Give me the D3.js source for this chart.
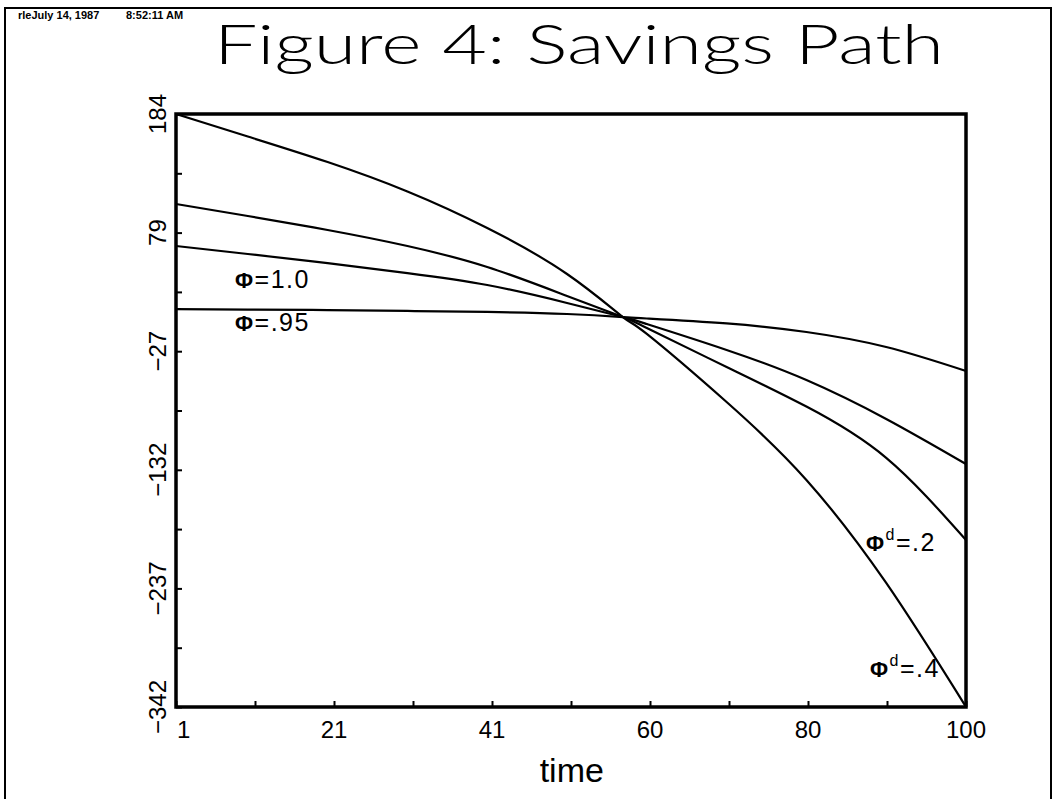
<!DOCTYPE html>
<html>
<head>
<meta charset="utf-8">
<script src="https://cdn.jsdelivr.net/npm/d3@7"></script>
<style>
  html, body { margin: 0; padding: 0; background: #fff; }
  svg { display: block; }
  text { fill: #000; }
</style>
</head>
<body>
<svg id="chart" width="1056" height="799"></svg>
<script>
// Time periods at which the savings paths are sampled
const times = [1, 10, 20, 30, 40, 50, 57, 60, 70, 80, 90, 100];

// Savings paths (one per parameter setting)
const pathPhiD4 = [184, 164.0, 141.4, 115.3, 82.9, 42.1, 3.9, -11.1, -71.5, -140.6, -232.0, -342];
const pathPhiD2 = [104.2, 93.5, 81.1, 66.9, 48.3, 22.6, 3.9, -5.8, -40.4, -75.5, -121.0, -193.9];
const pathPhi10 = [66.9, 59.8, 51.8, 42.9, 32.3, 16.4, 3.9, -2.3, -25.3, -52.0, -86.5, -126.5];
const pathPhi95 = [11.0, 10.5, 10.1, 9.3, 8.4, 6.6, 3.9, 2.6, -1.8, -9.4, -22.7, -44.0];

// Axis ticks and labels
const yTickLabels = ["\u2212342", "\u2212237", "\u2212132", "\u221227", "79", "184"];
const xTickLabels = ["1", "21", "41", "60", "80", "100"];

const yMin = -342, yMax = 184;
const xMin = 1, xMax = 100;

const svg = d3.select("#chart");
const W = 1056, H = 799;
const plot = { left: 176, right: 966, top: 114, bottom: 707 };

const x = d3.scaleLinear().domain([xMin, xMax]).range([plot.left, plot.right]);
const y = d3.scaleLinear().domain([yMin, yMax]).range([plot.bottom, plot.top]);

// page frame
svg.append("path")
  .attr("d", `M5,${H + 5} V8 H1051 V${H + 5}`)
  .attr("fill", "none").attr("stroke", "#000").attr("stroke-width", 2);

// header stamp
const stampFont = "Liberation Sans, Arial, sans-serif";
svg.append("text")
  .attr("x", 18).attr("y", 19)
  .attr("font-family", stampFont)
  .attr("font-weight", "bold").attr("font-size", 11)
  .text("rleJuly 14, 1987");
svg.append("text")
  .attr("x", 126).attr("y", 19)
  .attr("font-family", stampFont)
  .attr("font-weight", "bold").attr("font-size", 11)
  .text("8:52:11 AM");

// title
svg.append("text")
  .attr("x", 214).attr("y", 64)
  .attr("font-family", "Lato, 'Open Sans', sans-serif")
  .attr("font-weight", 300).attr("font-size", 55)
  .attr("textLength", 730).attr("lengthAdjust", "spacingAndGlyphs")
  .text("Figure 4: Savings Path");

// y ticks: labelled major ticks and unlabelled mid ticks
const yStep = (yMax - yMin) / 5;
const yMajor = d3.range(6).map(i => yMin + i * yStep);
const yMinor = d3.range(5).map(i => yMin + (i + 0.5) * yStep);

const yAxis = d3.axisRight(y)
  .tickValues(yMajor.concat(yMinor))
  .tickSize(6)
  .tickFormat("");
svg.append("g")
  .attr("transform", `translate(${plot.left},0)`)
  .call(yAxis)
  .call(g => g.select(".domain").remove())
  .call(g => g.selectAll("line").attr("stroke-width", 2));

const tickFont = "Liberation Sans, Arial, sans-serif";
svg.append("g").selectAll("text")
  .data(yMajor)
  .join("text")
  .attr("transform", d => `translate(166,${y(d)}) rotate(-90)`)
  .attr("text-anchor", "middle")
  .attr("font-family", tickFont)
  .attr("font-size", 24)
  .text((d, i) => yTickLabels[i]);

// x ticks
const xStep = (xMax - xMin) / 10;
const xTicks = d3.range(11).map(i => xMin + i * xStep);
const xAxis = d3.axisTop(x)
  .tickValues(xTicks)
  .tickSize(6)
  .tickFormat("");
svg.append("g")
  .attr("transform", `translate(0,${plot.bottom})`)
  .call(xAxis)
  .call(g => g.select(".domain").remove())
  .call(g => g.selectAll("line").attr("stroke-width", 2));

svg.append("g").selectAll("text")
  .data(xTicks.filter((d, i) => i % 2 === 0))
  .join("text")
  .attr("x", (d, i) => i === 0 ? x(d) + 1 : x(d))
  .attr("y", 738)
  .attr("text-anchor", (d, i) => i === 0 ? "start" : "middle")
  .attr("font-family", tickFont)
  .attr("font-size", 24)
  .text((d, i) => xTickLabels[i]);

// x axis title
svg.append("text")
  .attr("x", x(50.6)).attr("y", 782)
  .attr("text-anchor", "middle")
  .attr("font-family", tickFont)
  .attr("font-size", 34)
  .text("time");

// savings paths
const line = d3.line()
  .x(d => x(d[0]))
  .y(d => y(d[1]))
  .curve(d3.curveNatural);

const allPaths = [pathPhiD4, pathPhiD2, pathPhi10, pathPhi95];
svg.append("g").selectAll("path")
  .data(allPaths)
  .join("path")
  .attr("d", vals => line(times.map((t, i) => [t, vals[i]])))
  .attr("fill", "none")
  .attr("stroke", "#000")
  .attr("stroke-width", 2.2)
  .attr("stroke-linejoin", "round");

// plot frame
svg.append("rect")
  .attr("x", plot.left).attr("y", plot.top)
  .attr("width", plot.right - plot.left)
  .attr("height", plot.bottom - plot.top)
  .attr("fill", "none").attr("stroke", "#000").attr("stroke-width", 3.5);

// curve labels
function phiLabel(px, py, sup, rest) {
  const t = svg.append("text")
    .attr("x", px).attr("y", py)
    .attr("font-family", tickFont)
    .attr("font-size", 25)
    .attr("letter-spacing", 1.5);
  t.append("tspan").attr("font-weight", "bold").attr("font-size", 22).text("\u03A6");
  if (sup) {
    t.append("tspan").attr("font-size", 16).attr("dy", -11).text(sup);
    t.append("tspan").attr("dy", 11).text(rest);
  } else {
    t.append("tspan").text(rest);
  }
}
phiLabel(235, 288, null, "=1.0");
phiLabel(235, 331, null, "=.95");
phiLabel(866, 551, "d", "=.2");
phiLabel(870, 677, "d", "=.4");
</script>
</body>
</html>
